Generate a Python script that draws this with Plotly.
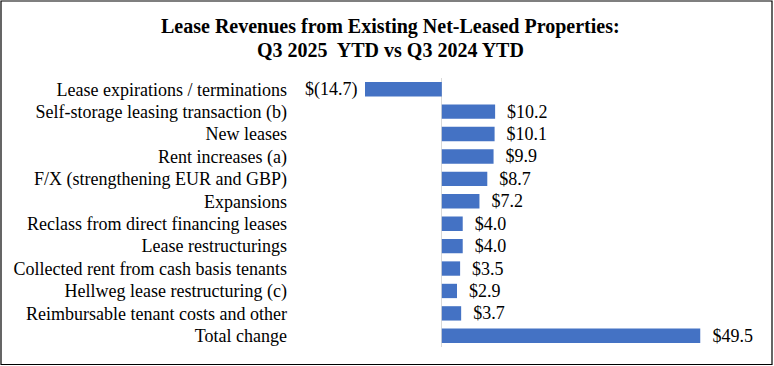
import plotly.graph_objects as go

categories = [
    "Lease expirations / terminations",
    "Self-storage leasing transaction (b)",
    "New leases",
    "Rent increases (a)",
    "F/X (strengthening EUR and GBP)",
    "Expansions",
    "Reclass from direct financing leases",
    "Lease restructurings",
    "Collected rent from cash basis tenants",
    "Hellweg lease restructuring (c)",
    "Reimbursable tenant costs and other",
    "Total change",
]
values = [-14.7, 10.2, 10.1, 9.9, 8.7, 7.2, 4.0, 4.0, 3.5, 2.9, 3.7, 49.5]
labels = ["$(14.7)", "$10.2", "$10.1", "$9.9", "$8.7", "$7.2", "$4.0", "$4.0",
          "$3.5", "$2.9", "$3.7", "$49.5"]
title_lines = ["Lease Revenues from Existing Net-Leased Properties:",
               "Q3 2025  YTD vs Q3 2024 YTD"]

NB = "\u00a0"
texts = [(l + NB) if v < 0 else (NB * 2 + l) for l, v in zip(labels, values)]

W, H = 774, 366
FONT = "Liberation Serif, Times New Roman, serif"

fig = go.Figure(go.Bar(
    x=values, y=categories, orientation="h",
    marker=dict(color="#4472C4", line=dict(width=0)),
    text=texts, textposition="outside", cliponaxis=False,
    constraintext="none",
    textfont=dict(family=FONT, size=18, color="black"),
    hoverinfo="skip",
))

fig.update_layout(
    width=W, height=H,
    margin=dict(l=0, r=0, t=0, b=0, pad=0),
    paper_bgcolor="white", plot_bgcolor="white",
    bargap=0.36, showlegend=False,
    font=dict(family=FONT, size=18, color="black"),
    xaxis=dict(domain=[365 / W, 700.5 / W], range=[-14.7, 49.5],
               showgrid=False, showticklabels=False,
               zeroline=True, zerolinecolor="#d9d9d9", zerolinewidth=1,
               showline=False, automargin=False, fixedrange=True),
    yaxis=dict(domain=[1 - 347 / H, 1 - 78 / H], autorange="reversed",
               showgrid=False, showline=False, ticks="",
               ticklabelstandoff=77, automargin=False, fixedrange=True,
               tickfont=dict(family=FONT, size=18, color="black")),
)

for t, yc in zip(title_lines, [27, 50]):
    fig.add_annotation(text="<b>" + t + "</b>", xref="paper", yref="paper",
                       x=390 / W, y=1 - yc / H, xanchor="center", yanchor="middle",
                       showarrow=False,
                       font=dict(family=FONT, size=20, color="black"))

fig.add_shape(type="rect", xref="paper", yref="paper",
              x0=1 / W, x1=772 / W, y0=1 - 364.5 / H, y1=1 - 1 / H,
              line=dict(color="black", width=1.2), layer="above")

fig.write_html("out.html",
               config={"displayModeBar": False, "staticPlot": True},
               post_script="document.body.style.margin='0';document.body.style.overflow='hidden';")
